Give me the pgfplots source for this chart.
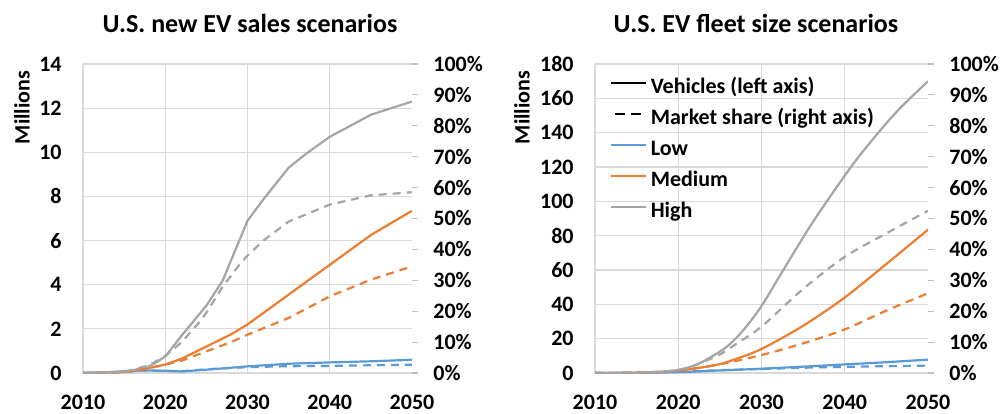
\documentclass[border=0pt]{standalone}
\usepackage{fontspec}
\setmainfont{Carlito}
\usepackage{pgfplots}
\pgfplotsset{compat=1.18}
\definecolor{cLow}{HTML}{5B9BD5}
\definecolor{cMed}{HTML}{ED7D31}
\definecolor{cHigh}{HTML}{A5A5A5}
\definecolor{gridc}{HTML}{D9D9D9}
\definecolor{tickc}{HTML}{BFBFBF}
\newcommand\tf{\fontsize{11}{13}\selectfont\bfseries}
\pgfplotsset{
  base/.style={scale only axis, height=154.5pt, xmin=2010, xmax=2050,
    /pgf/number format/assume math mode=true, /pgf/number format/1000 sep={},
    ticklabel style={font=\tf}, axis line style={draw=none},
    every axis plot/.append style={line width=1.1pt}},
  leftax/.style={base, grid=major, major grid style={draw=gridc, line width=0.6pt},
    xtick={2010,2020,2030,2040}, extra x ticks={2050}, extra x tick style={grid=none},
    tick style={draw=none}, ytick pos=left, xtick pos=bottom,
    xticklabel style={anchor=base, inner sep=0pt, yshift=-18pt},
    yticklabel style={anchor=east, inner sep=0pt, xshift=-10.5pt}},
  rightax/.style={base, axis x line=none, axis y line*=right, ymin=0, ymax=100,
    ytick={0,10,...,100}, yticklabel={\pgfmathprintnumber{\tick}\%},
    tick align=outside, major tick length=3pt,
    ytick style={draw=tickc, line width=0.6pt},
    yticklabel style={anchor=west, inner sep=0pt, xshift=7.5pt}},
  dsh/.style={dash pattern=on 4pt off 3pt}
}
\begin{document}
\begin{tikzpicture}
\path[use as bounding box] (0,0) rectangle (500pt,206.5pt);
% ---------- left chart ----------
\begin{axis}[leftax, at={(41.5pt,20pt)}, anchor=south west, width=164.5pt,
  ymin=0, ymax=14, ytick={0,2,...,14}]
\addplot[cLow] coordinates {(2010,0) (2015,0.05) (2017,0.12) (2020,0.1) (2022,0.07) (2025,0.15) (2030,0.3) (2035,0.42) (2040,0.48) (2045,0.53) (2050,0.6)};
\addplot[cMed] coordinates {(2010,0) (2015,0.05) (2017,0.15) (2020,0.38) (2022,0.65) (2025,1.2) (2028,1.75) (2030,2.2) (2035,3.55) (2040,4.9) (2045,6.25) (2050,7.35)};
\addplot[cHigh] coordinates {(2010,0) (2012,0.02) (2014,0.06) (2016,0.12) (2018,0.3) (2019,0.5) (2020,0.75) (2022,1.7) (2024,2.6) (2025,3.05) (2027,4.2) (2028,5.1) (2029,6.0) (2030,6.9) (2032,7.9) (2035,9.3) (2037,9.9) (2040,10.7) (2042,11.1) (2045,11.7) (2050,12.3)};
\end{axis}
\begin{axis}[rightax, at={(41.5pt,20pt)}, anchor=south west, width=164.5pt]
\addplot[cLow, dsh] coordinates {(2010,0) (2015,0.3) (2017,0.8) (2020,0.7) (2022,0.6) (2025,1.2) (2030,1.9) (2035,2.2) (2040,2.3) (2045,2.5) (2050,2.7)};
\addplot[cMed, dsh] coordinates {(2010,0) (2015,0.3) (2017,1) (2020,2.7) (2022,4) (2025,7) (2028,10) (2030,12.4) (2035,17.8) (2040,24.8) (2045,30.2) (2050,34.5)};
\addplot[cHigh, dsh] coordinates {(2010,0) (2015,0.3) (2018,2.5) (2019,4) (2020,5.5) (2022,10) (2024,16) (2025,19.5) (2027,28) (2029,35) (2030,38) (2032,43) (2035,49) (2040,54.5) (2045,57.5) (2050,58.5)};
\end{axis}
% ---------- right chart ----------
\begin{axis}[leftax, at={(297.5pt,20pt)}, anchor=south west, width=166.5pt,
  ymin=0, ymax=180, ytick={0,20,...,180},
  legend style={at={(0.045,0.956)}, anchor=north west, draw=none, fill=none,
    inner sep=0pt, outer sep=0pt, font=\tf, row sep=5pt,
    nodes={inner sep=0pt, text height=8pt, text depth=2.5pt}},
  legend cell align=left,
  legend image code/.code={\draw[#1] (0pt,2.75pt) -- (17.5pt,2.75pt);}]
\addlegendimage{black, line width=1.1pt}
\addlegendentry{\,Vehicles (left axis)}
\addlegendimage{black, line width=1.1pt, dash pattern=on 5pt off 3pt, dash phase=-2pt}
\addlegendentry{\,Market share (right axis)}
\addlegendimage{cLow, line width=1.1pt}
\addlegendentry{\,Low}
\addlegendimage{cMed, line width=1.1pt}
\addlegendentry{\,Medium}
\addlegendimage{cHigh, line width=1.1pt}
\addlegendentry{\,High}
\addplot[cLow, smooth, forget plot] coordinates {(2010,0) (2015,0.1) (2020,0.5) (2025,1.5) (2030,2.5) (2035,3.7) (2040,5) (2045,6.3) (2050,7.8)};
\addplot[cMed, smooth, forget plot] coordinates {(2010,0) (2015,0.2) (2018,0.6) (2020,1.5) (2022,2.6) (2025,5.2) (2027,8.3) (2030,14) (2035,27.5) (2040,44) (2045,63.5) (2050,83.5)};
\addplot[cHigh, smooth, forget plot] coordinates {(2010,0) (2015,0.2) (2018,0.8) (2020,1.8) (2022,4.5) (2024,9.5) (2026,16) (2028,26) (2030,39) (2032,55) (2035,79) (2037,94) (2040,115) (2042,128) (2045,145.5) (2047,156) (2050,170)};
\end{axis}
\begin{axis}[rightax, at={(297.5pt,20pt)}, anchor=south west, width=166.5pt]
\addplot[cLow, dsh, smooth] coordinates {(2010,0) (2015,0.1) (2020,0.4) (2025,0.9) (2030,1.3) (2035,1.7) (2040,2.0) (2045,2.2) (2050,2.4)};
\addplot[cMed, dsh, smooth] coordinates {(2010,0) (2015,0.1) (2020,0.8) (2022,1.5) (2025,2.8) (2030,5.8) (2035,9.6) (2040,14.1) (2045,20.2) (2050,25.8)};
\addplot[cHigh, dsh, smooth] coordinates {(2010,0) (2015,0.1) (2018,0.4) (2020,1) (2022,2.5) (2025,6) (2027,9.5) (2030,15) (2035,27.2) (2040,37.6) (2045,45.2) (2050,52.5)};
\end{axis}
% ---------- titles and axis names ----------
\node[anchor=base, font=\fontsize{13}{15}\selectfont\bfseries] at (125pt,190pt) {U.S. new EV sales scenarios};
\node[anchor=base, font=\fontsize{13}{15}\selectfont\bfseries] at (378pt,190pt) {U.S. EV fleet size scenarios};
\node[rotate=90, font=\tf] at (11pt,152.75pt) {Millions};
\node[rotate=90, font=\tf] at (261pt,152.75pt) {Millions};
\end{tikzpicture}
\end{document}
